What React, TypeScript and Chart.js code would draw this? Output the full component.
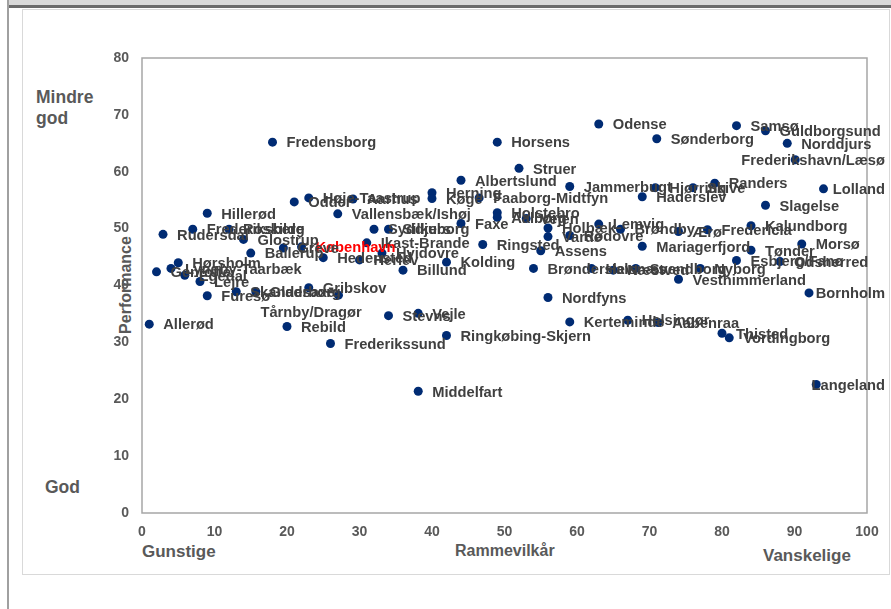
import React, { useEffect, useRef } from "react";
import { Chart, registerables } from "chart.js";

Chart.register(...registerables);

// ---------- DATA ----------
const municipalities = [
  "Fredensborg", "Horsens", "Odense", "Samsø", "Guldborgsund", "Sønderborg", "Norddjurs",
  "Frederikshavn/Læsø", "Struer", "Albertslund", "Jammerbugt", "Hjørring", "Skive", "Randers",
  "Haderslev", "Lolland", "Slagelse", "Herning", "Køge", "Faaborg-Midtfyn", "Odder",
  "Høje-Taastrup", "Aarhus", "Hillerød", "Vallensbæk/Ishøj", "Holstebro", "Aalborg", "Vejen",
  "Faxe", "Syddjurs", "Silkeborg", "Ikast-Brande", "København", "Rudersdal", "Frederiksberg",
  "Roskilde", "Glostrup", "Ballerup", "Greve", "Hedensted", "Herlev", "Hvidovre", "Billund", "Kolding",
  "Ringsted", "Assens", "Brønderslev", "Holbæk", "Varde", "Rødovre", "Nordfyns", "Kerteminde",
  "Helsingør", "Aabenraa", "Thisted", "Vordingborg", "Langeland", "Bornholm", "Vesthimmerland",
  "Nyborg", "Halsnæs", "Næstved", "Svendborg", "Mariagerfjord", "Lemvig", "Brøndby", "Ærø",
  "Fredericia", "Kalundborg", "Tønder", "Esbjerg/Fanø", "Odsherred", "Morsø", "Gentofte",
  "Lyngby-Taarbæk", "Hørsholm", "Egedal", "Lejre", "Furesø", "Skanderborg", "Gladsaxe",
  "Gribskov", "Tårnby/Dragør", "Rebild", "Allerød", "Frederikssund", "Stevns", "Vejle",
  "Ringkøbing-Skjern", "Middelfart",
];

const rammevilkaar = [
  18.0, 49.0, 63.0, 82.0, 86.0, 71.0, 89.0,
  90.1, 52.0, 44.0, 59.0, 70.8, 76.0, 79.0,
  69.0, 94.0, 86.0, 40.0, 40.0, 46.5, 21.0,
  23.0, 29.1, 9.0, 27.0, 49.0, 49.0, 53.0,
  44.0, 32.0, 34.0, 31.0, 22.0, 2.9, 7.0,
  12.0, 14.0, 15.0, 19.5, 25.0, 30.0, 33.1, 36.0, 42.0,
  47.0, 55.0, 54.0, 56.0, 56.0, 59.0, 56.0, 59.0,
  67.0, 71.2, 80.0, 81.0, 93.0, 92.0, 74.0,
  77.0, 62.0, 65.0, 68.1, 69.0, 63.0, 66.0, 74.0,
  78.0, 84.0, 84.0, 82.0, 88.0, 91.0, 2.0,
  4.0, 5.0, 5.9, 8.0, 9.0, 13.0, 15.7,
  23.0, 27.1, 20.0, 1.0, 26.0, 34.0, 38.1,
  42.0, 38.1,
];

const performance = [
  65.2, 65.2, 68.4, 68.1, 67.2, 65.8, 65.0,
  62.1, 60.6, 58.5, 57.4, 57.2, 57.2, 58.0,
  55.6, 57.0, 54.1, 56.3, 55.3, 55.4, 54.7,
  55.4, 55.2, 52.7, 52.6, 52.8, 52.0, 51.8,
  50.9, 49.9, 49.9, 47.5, 46.8, 49.0, 49.9,
  49.9, 48.1, 45.7, 46.6, 44.9, 44.5, 45.7, 42.7, 44.1,
  47.2, 46.1, 43.0, 50.1, 48.6, 48.8, 37.9, 33.6,
  33.9, 33.5, 31.6, 30.8, 22.6, 38.7, 41.1,
  43.0, 43.0, 42.7, 43.0, 46.9, 50.8, 49.9, 49.5,
  49.8, 50.5, 46.2, 44.4, 44.2, 47.3, 42.4,
  43.0, 44.0, 41.8, 40.7, 38.2, 38.9, 38.9,
  39.6, 38.3, 32.8, 33.2, 29.8, 34.7, 35.1,
  31.2, 21.4,
];

const highlighted = "København";

const xTicks = [0, 10, 20, 30, 40, 50, 60, 70, 80, 90, 100];
const yTicks = [0, 10, 20, 30, 40, 50, 60, 70, 80];

// ---------- STYLE ----------
const FONT = "'Liberation Sans', Arial, Helvetica, sans-serif";
const POINT_COLOR = "#002B73";
const LABEL_COLOR = "#404040";
const AXIS_TEXT = "#595959";
const W = 891;
const H = 609;
const PLOT_LEFT = 142;
const PLOT_RIGHT = 867;
const PLOT_TOP = 58;
const PLOT_BOTTOM = 513;
const LABEL_RIGHT_LIMIT = 885;
const LABEL_SIZE = 14.7;
// manually moved data labels (pixel offsets of the label's left/middle from the marker)
const labelNudges: Record<string, { dx: number; dy: number }> = {
  "Tårnby/Dragør": { dx: -78, dy: 17 },
};

const labelPlugin = {
  id: "pointLabels",
  beforeDatasetsDraw(chart: any) {
    const { ctx, chartArea } = chart;
    ctx.save();
    ctx.strokeStyle = "#a6a6a6";
    ctx.lineWidth = 1.5;
    ctx.strokeRect(chartArea.left, chartArea.top, chartArea.right - chartArea.left, chartArea.bottom - chartArea.top);
    ctx.restore();
  },
  afterDatasetsDraw(chart: any) {
    const { ctx } = chart;
    const meta = chart.getDatasetMeta(0);
    ctx.save();
    ctx.font = `bold ${LABEL_SIZE}px ${FONT}`;
    ctx.textBaseline = "alphabetic";
    ctx.textAlign = "left";
    meta.data.forEach((el: any, i: number) => {
      const name = municipalities[i];
      const w = ctx.measureText(name).width;
      const nudge = labelNudges[name];
      let lx = el.x + (nudge ? nudge.dx : 14);
      const ly = el.y + (nudge ? nudge.dy : 0);
      if (lx + w > LABEL_RIGHT_LIMIT) lx = LABEL_RIGHT_LIMIT - w;
      ctx.fillStyle = name === highlighted ? "#FF0000" : LABEL_COLOR;
      ctx.fillText(name, lx, ly + LABEL_SIZE * 0.358);
    });
    ctx.restore();
  },
};

export default function App() {
  const ref = useRef<HTMLCanvasElement | null>(null);

  useEffect(() => {
    if (!ref.current) return;
    const points = municipalities.map((_, i) => ({ x: rammevilkaar[i], y: performance[i] }));
    const chart = new Chart(ref.current, {
      type: "scatter",
      data: {
        datasets: [
          {
            data: points,
            pointRadius: 4.5,
            pointHoverRadius: 4.5,
            pointBackgroundColor: POINT_COLOR,
            pointBorderWidth: 0,
            borderWidth: 0,
          },
        ],
      },
      options: {
        responsive: false,
        animation: false,
        events: [],
        layout: { padding: { left: 0, top: PLOT_TOP, right: W - PLOT_RIGHT, bottom: 0 } },
        plugins: { legend: { display: false }, tooltip: { enabled: false }, title: { display: false } },
        scales: {
          x: {
            type: "linear",
            min: 0,
            max: 100,
            afterBuildTicks: (s: any) => { s.ticks = xTicks.map((v) => ({ value: v })); },
            afterFit: (s: any) => { s.height = H - PLOT_BOTTOM; },
            grid: { display: false, drawTicks: false },
            border: { display: false },
            ticks: { padding: 11, color: AXIS_TEXT, font: { family: FONT, size: 14, weight: "bold" } },
          },
          y: {
            type: "linear",
            min: 0,
            max: 80,
            afterBuildTicks: (s: any) => { s.ticks = yTicks.map((v) => ({ value: v })); },
            afterFit: (s: any) => { s.width = PLOT_LEFT; },
            grid: { display: false, drawTicks: false },
            border: { display: false },
            ticks: { padding: 13, color: AXIS_TEXT, font: { family: FONT, size: 14, weight: "bold" } },
          },
        },
      },
      plugins: [labelPlugin],
    });
    return () => chart.destroy();
  }, []);

  const txt = (extra: React.CSSProperties): React.CSSProperties => ({
    position: "absolute",
    fontFamily: FONT,
    fontWeight: "bold",
    color: AXIS_TEXT,
    whiteSpace: "nowrap",
    lineHeight: 1,
    ...extra,
  });

  return (
    <div style={{ position: "absolute", left: 0, top: 0, width: W, height: H, overflow: "hidden", background: "#fff" }}>
      <div style={{ position: "absolute", left: 7, top: 0, width: 2, height: H, background: "#a0a0a0" }} />
      <div style={{ position: "absolute", left: 9, top: 0, width: W - 9, height: 5, background: "#d9d9d9" }} />
      <div style={{ position: "absolute", left: 9, top: 5, width: W - 9, height: 3, background: "#6b6b6b" }} />
      <div style={{ position: "absolute", left: 22, top: 9, width: 866, height: 564, border: "1px solid #d9d9d9" }} />
      <div style={txt({ left: 36, top: 87, fontSize: 17.5, lineHeight: "21px" })}>Mindre<br />god</div>
      <div style={txt({ left: 45, top: 479, fontSize: 17.5 })}>God</div>
      <div style={txt({ left: 142, top: 543, fontSize: 17 })}>Gunstige</div>
      <div style={txt({ left: 763, top: 547, fontSize: 17 })}>Vanskelige</div>
      <div style={txt({ left: 455, top: 543, fontSize: 16 })}>Rammevilkår</div>
      <div style={txt({ left: 126, top: 285, fontSize: 16, transform: "translate(-50%, -50%) rotate(-90deg)" })}>Performance</div>
      <canvas ref={ref} width={W} height={H} style={{ position: "absolute", left: 0, top: 0, width: W, height: H }} />
    </div>
  );
}
